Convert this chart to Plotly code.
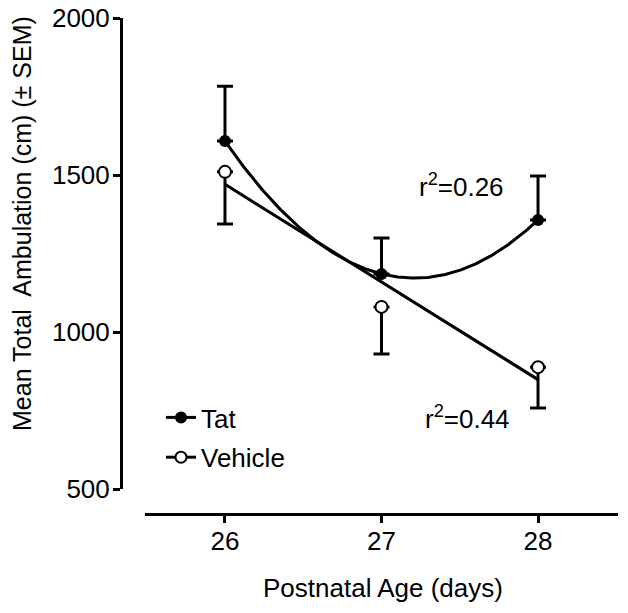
import numpy as np
import plotly.graph_objects as go

# ---- data ----
age_days = [26, 27, 28]
tat_mean = [1608, 1185, 1357]
tat_sem = [175, 114, 140]
veh_mean = [1510, 1080, 888]
veh_sem = [166, 150, 130]
x_ticks = [26, 27, 28]
y_ticks = [500, 1000, 1500, 2000]
r2_tat = "0.26"
r2_veh = "0.44"

FONT = "Liberation Sans, Arial, sans-serif"
W, H = 628, 613
OX, OY = 8, 8  # page body offset


def px(x):
    return (x - OX) / W


def py(y):
    return 1 - (y - OY) / H


# fits (second-order for Tat, linear for Vehicle)
xs = np.linspace(min(age_days), max(age_days), 200)
tat_fit = np.polyval(np.polyfit(age_days, tat_mean, 2), xs)
veh_fit = np.polyval(np.polyfit(age_days, veh_mean, 1), xs)

fig = go.Figure()

fig.add_trace(go.Scatter(x=xs, y=veh_fit, mode="lines", line=dict(color="black", width=3),
                         showlegend=False, hoverinfo="skip"))
fig.add_trace(go.Scatter(x=xs, y=tat_fit, mode="lines", line=dict(color="black", width=3),
                         showlegend=False, hoverinfo="skip"))

fig.add_trace(go.Scatter(
    x=age_days, y=tat_mean, mode="markers", showlegend=False,
    marker=dict(symbol="circle", size=12, color="black", line=dict(color="black", width=0)),
    error_y=dict(type="data", array=tat_sem, arrayminus=[0] * len(tat_sem), symmetric=False,
                 color="black", thickness=3, width=8)))
fig.add_trace(go.Scatter(
    x=age_days, y=veh_mean, mode="markers", showlegend=False,
    marker=dict(symbol="circle", size=12, color="white", line=dict(color="black", width=2)),
    error_y=dict(type="data", array=[0] * len(veh_sem), arrayminus=veh_sem, symmetric=False,
                 color="black", thickness=3, width=8)))

# legend entries
fig.add_trace(go.Scatter(x=[None], y=[None], mode="lines+markers", name="Tat",
                         legendgroup="tat",
                         line=dict(color="black", width=3),
                         marker=dict(symbol="circle", size=12, color="black")))
fig.add_trace(go.Scatter(x=[None], y=[None], mode="lines+markers", name="Vehicle",
                         legendgroup="veh",
                         line=dict(color="black", width=3),
                         marker=dict(symbol="circle", size=11, color="white",
                                     line=dict(color="black", width=2))))

fig.update_layout(
    width=W, height=H,
    margin=dict(l=0, r=0, t=0, b=0, pad=0, autoexpand=False),
    paper_bgcolor="white", plot_bgcolor="white",
    font=dict(family=FONT, size=26, color="black"),
    showlegend=True,
    legend=dict(x=px(161), y=py(394), xanchor="left", yanchor="top",
                tracegroupgap=3,
                bgcolor="rgba(0,0,0,0)", font=dict(size=26, family=FONT)),
    xaxis=dict(domain=[px(145), px(618)], range=[25.489, 28.511],
               anchor="free", position=py(514),
               tickvals=x_ticks, ticktext=[str(v) for v in x_ticks],
               showline=True, linecolor="black", linewidth=3,
               ticks="outside", ticklen=7, tickwidth=3, tickcolor="black",
               ticklabelstandoff=-4, ticklabeloverflow="allow",
               showgrid=False, zeroline=False, automargin=False,
               tickfont=dict(size=26, family=FONT)),
    yaxis=dict(domain=[py(489), py(18)], range=[500, 2000],
               anchor="free", position=px(121),
               tickvals=y_ticks, ticktext=[str(v) for v in y_ticks],
               showline=True, linecolor="black", linewidth=3,
               ticks="outside", ticklen=7, tickwidth=3, tickcolor="black",
               ticklabelstandoff=-2, ticklabeloverflow="allow",
               showgrid=False, zeroline=False, automargin=False,
               tickfont=dict(size=26, family=FONT)),
    annotations=[
        dict(text="Mean Total\u00a0 Ambulation (cm) (\u00b1 SEM)", textangle=-90,
             x=px(22), y=py(224), xref="paper", yref="paper",
             xanchor="center", yanchor="middle",
             showarrow=False, font=dict(size=25, family=FONT)),
        dict(text="Postnatal Age (days)", x=px(383), y=py(588),
             xref="paper", yref="paper", xanchor="center", yanchor="middle",
             showarrow=False, font=dict(size=26, family=FONT)),
        dict(text="r<sup>2</sup>=" + r2_tat, x=px(461), y=py(185),
             xref="paper", yref="paper", xanchor="center", yanchor="middle",
             showarrow=False, font=dict(size=26, family=FONT)),
        dict(text="r<sup>2</sup>=" + r2_veh, x=px(468), y=py(417),
             xref="paper", yref="paper", xanchor="center", yanchor="middle",
             showarrow=False, font=dict(size=26, family=FONT)),
    ],
)

fig.write_html("out.html")
